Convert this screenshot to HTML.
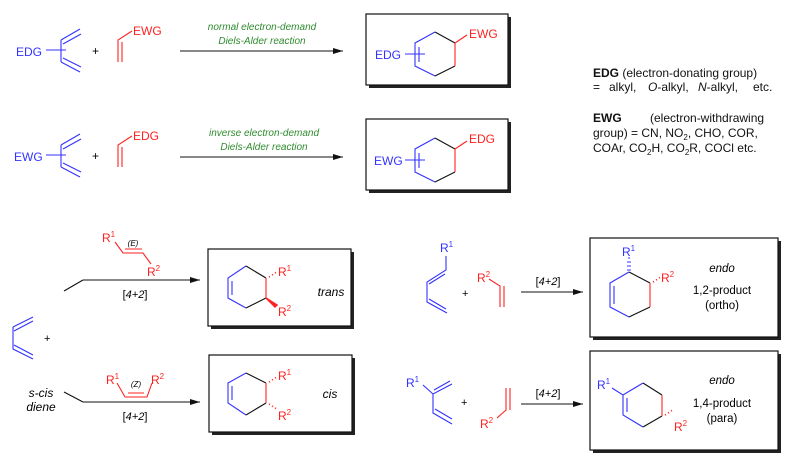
<!DOCTYPE html>
<html><head><meta charset="utf-8"><style>
html,body{margin:0;padding:0;background:#fff;}
svg{display:block;font-family:"Liberation Sans",Arial,sans-serif;}
.b{stroke:#3333ff;stroke-width:1.1;fill:none}
.r{stroke:#ff2222;stroke-width:1.1;fill:none}
.k{stroke:#111;stroke-width:1.1;fill:none}
.tb{fill:#3333ff}.tr{fill:#ff2222}.tg{fill:#2e8b2e;font-style:italic}
.box{fill:#fff;stroke:#111;stroke-width:1.2}
.sh{fill:#222}
</style></head><body>
<svg width="803" height="464" viewBox="0 0 803 464" xmlns="http://www.w3.org/2000/svg">
<defs><marker id="ah" markerWidth="10" markerHeight="6" refX="10" refY="3" orient="auto" markerUnits="userSpaceOnUse"><path d="M0,0 L10,3 L0,6 z" fill="#111"/></marker></defs>

<!-- Row 1 -->
<text x="16" y="56" class="tb" font-size="12">EDG</text>
<path class="b" d="M46,50 H66 M61,40 V62 M61,40 L80,29 M63,44 L81,34 M61,62 L80,72 M63,58 L81,67"/>
<text x="92" y="55" font-size="12">+</text>
<path class="r" d="M118,62 V40 L132,31 M122,62 V42"/>
<text x="133" y="35" class="tr" font-size="12">EWG</text>
<text x="262" y="30" class="tg" font-size="10" text-anchor="middle">normal electron-demand</text>
<text x="262" y="44" class="tg" font-size="10" text-anchor="middle">Diels-Alder reaction</text>
<line x1="180" y1="51" x2="343" y2="51" class="k" marker-end="url(#ah)"/>
<rect x="369" y="17" width="142" height="71" class="sh"/>
<rect x="366" y="14" width="142" height="71" class="box"/>
<path class="b" d="M435,32 L415,43 V66 L435,76 M419,47 V62 M405,54 H425"/>
<path class="k" d="M435,32 L455,43 M435,76 L455,66"/>
<path class="r" d="M455,43 V66 M455,43 L467,35"/>
<text x="375" y="59" class="tb" font-size="12">EDG</text>
<text x="469" y="38" class="tr" font-size="12">EWG</text>

<!-- Row 2 -->
<text x="14" y="161" class="tb" font-size="12">EWG</text>
<path class="b" d="M46,155 H66 M61,145 V167 M61,145 L80,134 M63,149 L81,139 M61,167 L80,177 M63,163 L81,172"/>
<text x="92" y="160" font-size="12">+</text>
<path class="r" d="M118,167 V145 L132,136 M122,167 V147"/>
<text x="133" y="140" class="tr" font-size="12">EDG</text>
<text x="264" y="136" class="tg" font-size="10" text-anchor="middle">inverse electron-demand</text>
<text x="264" y="150" class="tg" font-size="10" text-anchor="middle">Diels-Alder reaction</text>
<line x1="180" y1="157" x2="343" y2="157" class="k" marker-end="url(#ah)"/>
<rect x="369" y="122" width="142" height="71" class="sh"/>
<rect x="366" y="119" width="142" height="71" class="box"/>
<path class="b" d="M435,138 L415,149 V172 L435,182 M419,153 V168 M405,160 H425"/>
<path class="k" d="M435,138 L455,149 M435,182 L455,172"/>
<path class="r" d="M455,149 V172 M455,149 L467,141"/>
<text x="374" y="165" class="tb" font-size="12">EWG</text>
<text x="469" y="143" class="tr" font-size="12">EDG</text>

<!-- Definitions -->
<g font-size="12" fill="#111">
<text x="593" y="77"><tspan font-weight="bold">EDG</tspan> (electron-donating group)</text>
<text y="91"><tspan x="593">=</tspan><tspan x="609">alkyl,</tspan><tspan x="648" font-style="italic">O</tspan><tspan>-alkyl,</tspan><tspan x="698" font-style="italic">N</tspan><tspan>-alkyl,</tspan><tspan x="753">etc.</tspan></text>
<text x="593" y="122"><tspan font-weight="bold">EWG</tspan><tspan x="650">(electron-withdrawing</tspan></text>
<text x="593" y="137">group) = CN, NO<tspan font-size="8" dy="3">2</tspan><tspan dy="-3">, CHO, COR,</tspan></text>
<text x="593" y="152">COAr, CO<tspan font-size="8" dy="3">2</tspan><tspan dy="-3">H, CO</tspan><tspan font-size="8" dy="3">2</tspan><tspan dy="-3">R, COCl etc.</tspan></text>
</g>

<!-- s-cis diene -->
<path class="b" d="M13,327 L33,317 M14,331 L33,321 M13,327 V349 L33,359 M14,345 L33,355"/>
<text x="44" y="342" font-size="11">+</text>
<text x="41" y="397" font-size="12" font-style="italic" text-anchor="middle">s-cis</text>
<text x="41" y="411" font-size="12" font-style="italic" text-anchor="middle">diene</text>

<!-- trans -->
<text x="102" y="242" class="tr" font-size="12">R<tspan font-size="8" dy="-5">1</tspan></text>
<text x="133" y="246" font-size="8" font-style="italic" text-anchor="middle">(E)</text>
<path class="r" d="M115,242 L123,253 L143,253 L151,264 M125,249 L142,249"/>
<text x="147" y="276" class="tr" font-size="12">R<tspan font-size="8" dy="-5">2</tspan></text>
<path class="k" d="M64,291 L83,280"/>
<line x1="83" y1="280" x2="200" y2="280" class="k" marker-end="url(#ah)"/>
<text x="135" y="298" font-size="11" text-anchor="middle">[<tspan font-style="italic">4+2</tspan>]</text>
<rect x="211" y="252" width="143" height="77" class="sh"/>
<rect x="208" y="249" width="143" height="77" class="box"/>
<path class="b" d="M246,266 L228,278 V298 L246,308 M232,281 V295"/>
<path class="k" d="M246,266 L266,278 M246,308 L266,298"/>
<path class="r" d="M266,278 V298"/>
<path d="M269,276 l1,1.5 M272,274 l1,1.5 M275,272 l1,1.5" stroke="#ff2222" stroke-width="1"/>
<path d="M266,298 L277,305 L275,307 z" fill="#ff2222" stroke="#ff2222" stroke-width="1.5"/>
<text x="278" y="276" class="tr" font-size="12">R<tspan font-size="8" dy="-5">1</tspan></text>
<text x="278" y="316" class="tr" font-size="12">R<tspan font-size="8" dy="-5">2</tspan></text>
<text x="331" y="296" font-size="12" font-style="italic" text-anchor="middle">trans</text>

<!-- cis -->
<text x="106" y="384" class="tr" font-size="12">R<tspan font-size="8" dy="-5">1</tspan></text>
<text x="136" y="387" font-size="8" font-style="italic" text-anchor="middle">(Z)</text>
<text x="151" y="384" class="tr" font-size="12">R<tspan font-size="8" dy="-5">2</tspan></text>
<path class="r" d="M117,383 L125,397 L147,397 L152,383 M128,393 L144,393"/>
<path class="k" d="M64,392 L83,402"/>
<line x1="83" y1="402" x2="200" y2="402" class="k" marker-end="url(#ah)"/>
<text x="135" y="420" font-size="11" text-anchor="middle">[<tspan font-style="italic">4+2</tspan>]</text>
<rect x="212" y="358" width="143" height="77" class="sh"/>
<rect x="209" y="355" width="143" height="77" class="box"/>
<path class="b" d="M246,373 L228,383 V403 L246,415 M232,386 V400"/>
<path class="k" d="M246,373 L266,383 M246,415 L266,403"/>
<path class="r" d="M266,383 V403"/>
<path d="M269,381 l1,1.5 M272,379 l1,1.5 M275,377 l1,1.5 M269,405 l1,-1.5 M272,407 l1,-1.5 M275,409 l1,-1.5" stroke="#ff2222" stroke-width="1"/>
<text x="278" y="380" class="tr" font-size="12">R<tspan font-size="8" dy="-5">1</tspan></text>
<text x="278" y="420" class="tr" font-size="12">R<tspan font-size="8" dy="-5">2</tspan></text>
<text x="330" y="398" font-size="12" font-style="italic" text-anchor="middle">cis</text>

<!-- ortho row -->
<text x="440" y="252" class="tb" font-size="12">R<tspan font-size="8" dy="-5">1</tspan></text>
<path class="b" d="M446,256 V270 L427,282 V302 L447,313 M445,274 L429,284 M429,299 L446,309"/>
<text x="462" y="297" font-size="11">+</text>
<text x="477" y="282" class="tr" font-size="12">R<tspan font-size="8" dy="-5">2</tspan></text>
<path class="r" d="M489,279 L500,286 V307 M504,286 V307"/>
<line x1="521" y1="292" x2="583" y2="292" class="k" marker-end="url(#ah)"/>
<text x="548" y="285" font-size="11" text-anchor="middle">[<tspan font-style="italic">4+2</tspan>]</text>
<rect x="593" y="241" width="188" height="99" class="sh"/>
<rect x="590" y="238" width="188" height="99" class="box"/>
<path class="b" d="M629,272 L610,283 V307 L629,317 M614,286 V304"/>
<path class="k" d="M629,272 L650,283 M629,317 L650,307"/>
<path class="r" d="M650,283 V307"/>
<path d="M627,270 h4 M627,266 h4 M627,262 h4 M628,258 h2" stroke="#3333ff" stroke-width="1"/>
<path d="M653,281 l1,1.5 M656,279 l1,1.5 M659,277 l1,1.5" stroke="#ff2222" stroke-width="1"/>
<text x="622" y="256" class="tb" font-size="12">R<tspan font-size="8" dy="-5">1</tspan></text>
<text x="661" y="282" class="tr" font-size="12">R<tspan font-size="8" dy="-5">2</tspan></text>
<g font-size="11.5" text-anchor="middle">
<text x="722" y="272" font-style="italic">endo</text>
<text x="722" y="294">1,2-product</text>
<text x="722" y="309">(ortho)</text>
</g>

<!-- para row -->
<text x="406" y="387" class="tb" font-size="12">R<tspan font-size="8" dy="-5">1</tspan></text>
<path class="b" d="M423,385 L433,394 L452,384 M434,390 L450,381 M433,394 V413 L452,424 M435,409 L452,419"/>
<text x="461" y="406" font-size="11">+</text>
<path class="r" d="M506,388 V410 L497,418 M510,388 V410"/>
<text x="480" y="428" class="tr" font-size="12">R<tspan font-size="8" dy="-5">2</tspan></text>
<line x1="521" y1="404" x2="583" y2="404" class="k" marker-end="url(#ah)"/>
<text x="548" y="397" font-size="11" text-anchor="middle">[<tspan font-style="italic">4+2</tspan>]</text>
<rect x="593" y="354" width="188" height="99" class="sh"/>
<rect x="590" y="351" width="188" height="99" class="box"/>
<path class="b" d="M612,388 L623,395 L643,383 M623,395 V415 L643,427 M627,398 V412"/>
<path class="k" d="M643,383 L662,395 M643,427 L662,416"/>
<path class="r" d="M662,395 V416"/>
<path d="M665,414 l1,1.5 M668,412 l1,1.5 M671,410 l1,1.5" stroke="#ff2222" stroke-width="1"/>
<text x="597" y="389" class="tb" font-size="12">R<tspan font-size="8" dy="-5">1</tspan></text>
<text x="674" y="431" class="tr" font-size="12">R<tspan font-size="8" dy="-5">2</tspan></text>
<g font-size="11.5" text-anchor="middle">
<text x="722" y="384" font-style="italic">endo</text>
<text x="722" y="407">1,4-product</text>
<text x="722" y="422">(para)</text>
</g>
</svg>
</body></html>
